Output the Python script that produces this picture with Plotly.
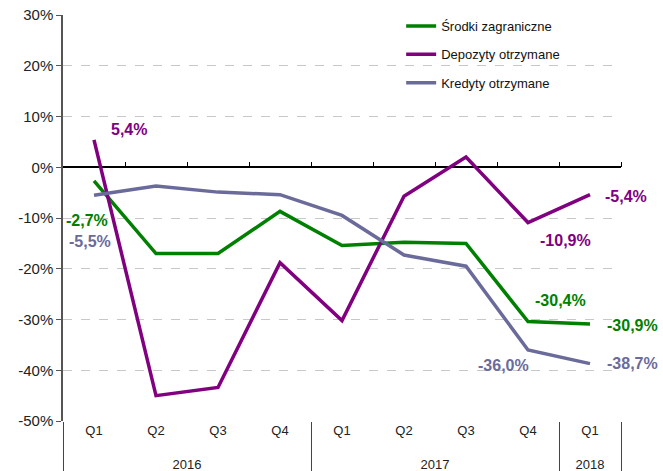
import plotly.graph_objects as go

years = ['2016', '2016', '2016', '2016', '2017', '2017', '2017', '2017', '2018']
quarters = ['Q1', 'Q2', 'Q3', 'Q4', 'Q1', 'Q2', 'Q3', 'Q4', 'Q1']

srodki = [-2.7, -17.0, -17.0, -8.7, -15.4, -14.8, -15.0, -30.4, -30.9]
depozyty = [5.4, -45.0, -43.4, -18.8, -30.2, -5.7, 2.0, -10.9, -5.4]
kredyty = [-5.5, -3.7, -4.9, -5.4, -9.5, -17.3, -19.5, -36.0, -38.7]

y_ticks = [-50, -40, -30, -20, -10, 0, 10, 20, 30]
y_ticktext = ['-50%', '-40%', '-30%', '-20%', '-10%', '0%', '10%', '20%', '30%']

series = [
    ('Środki zagraniczne', srodki, '#008000'),
    ('Depozyty otrzymane', depozyty, '#800080'),
    ('Kredyty otrzymane', kredyty, '#6B6B9B'),
]

# labelled points: (series index, point index, x shift, y shift)
labels = [
    (1, 0, 35, 10),
    (0, 0, -7, -40),
    (2, 0, -4, -46),
    (1, 8, 36, -2),
    (1, 7, 37, -18),
    (0, 7, 32, 21),
    (0, 8, 42, -1),
    (2, 7, -25, -16),
    (2, 8, 42, 0),
]


def fmt(v):
    return f'{v:.1f}'.replace('.', ',') + '%'


# an empty second line under each quarter pushes the year row further down
q_labels = [q + '<br> ' for q in quarters]

fig = go.Figure()
for i, (name, vals, color) in enumerate(series):
    fig.add_trace(go.Scatter(
        x=[years, q_labels],
        y=vals,
        name=name,
        mode='lines',
        legendgroup=name,
        line=dict(color=color, width=3.5),
    ))

# helper trace for the boundary ticks on the zero line
fig.add_trace(go.Scatter(
    x=list(range(len(years))),
    y=[None] * len(years),
    xaxis='x2',
    showlegend=False,
    hoverinfo='skip',
))

for s, p, dx, dy in labels:
    name, vals, color = series[s]
    fig.add_annotation(
        x=p, y=vals[p],
        text=fmt(vals[p]),
        showarrow=False,
        xshift=dx, yshift=dy,
        font=dict(size=16, color=color, family='Liberation Sans, Arial', weight='bold'),
    )

fig.update_layout(
    width=663,
    height=471,
    margin=dict(l=63, r=42, t=15, b=50, autoexpand=False),
    plot_bgcolor='white',
    paper_bgcolor='white',
    font=dict(family='Liberation Sans, Arial', size=13, color='#222222'),
    legend=dict(
        x=0.606, y=0.9766,
        xref='paper', yref='container',
        xanchor='left', yanchor='top',
        bgcolor='rgba(0,0,0,0)',
        tracegroupgap=8.5,
        font=dict(size=13, color='#111111'),
    ),
    xaxis2=dict(
        type='linear',
        overlaying='x',
        anchor='free',
        position=50 / 80,
        range=[-0.5, len(years) - 0.5],
        tickvals=[i + 0.5 for i in range(len(years))],
        showticklabels=False,
        showgrid=False,
        showline=False,
        zeroline=False,
        ticks='outside',
        ticklen=5,
        tickwidth=1,
        tickcolor='#000000',
        side='top',
        automargin=False,
    ),
)

fig.update_xaxes(
    selector=dict(type='multicategory'),
    showgrid=False,
    showline=False,
    ticks='outside',
    tickson='boundaries',
    ticklen=26,
    tickcolor='#555555',
    showdividers=True,
    dividercolor='#555555',
    dividerwidth=1,
    tickfont=dict(size=13, color='#222222'),
)
fig.update_layout(xaxis=dict(range=[-0.5, 8.5], automargin=False))

fig.update_yaxes(
    range=[-50, 30],
    tickvals=y_ticks,
    ticktext=y_ticktext,
    showline=True,
    linecolor='#555555',
    linewidth=1.5,
    ticks='outside',
    ticklen=5,
    tickcolor='#555555',
    gridcolor='#c8c8c8',
    griddash='dash',
    zeroline=True,
    zerolinecolor='#000000',
    zerolinewidth=1.5,
    tickfont=dict(size=15, color='#222222'),
    ticklabeloverflow='allow',
    automargin=False,
)

# drop the default 8px page margin so the figure sits at the window corner
fig.write_html('out.html', config={'displayModeBar': False},
               post_script="document.body.style.margin = '0';")
